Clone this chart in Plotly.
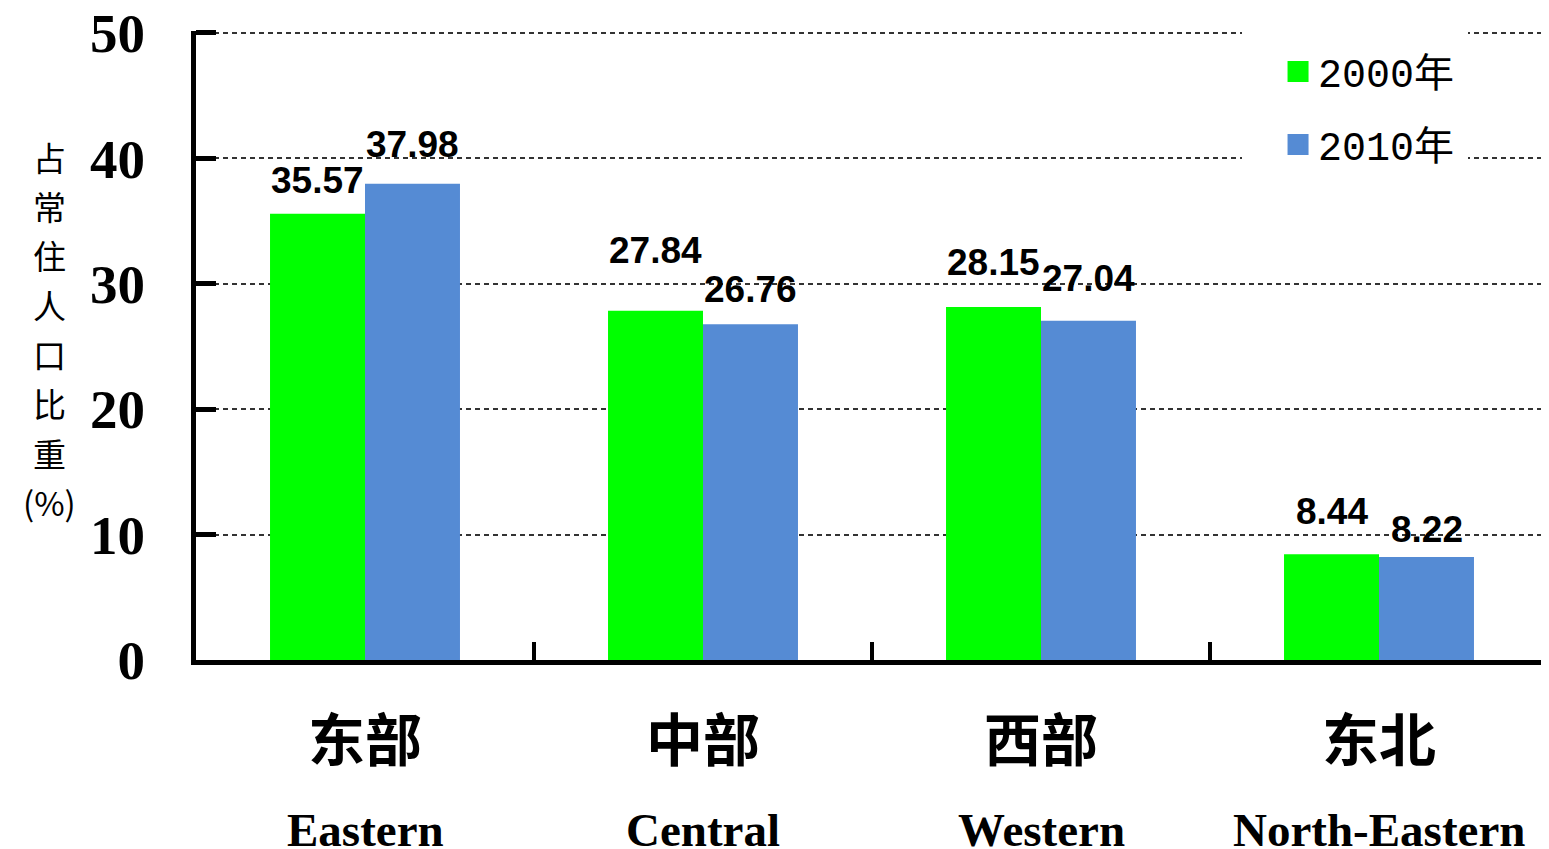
import plotly.graph_objects as go

categories = ["东部", "中部", "西部", "东北"]
categories_en = ["Eastern", "Central", "Western", "North-Eastern"]
series_names = ["2000年", "2010年"]
values_2000 = [35.57, 27.84, 28.15, 8.44]
values_2010 = [37.98, 26.76, 27.04, 8.22]
y_ticks = [0, 10, 20, 30, 40, 50]
y_title_chars = ["占", "常", "住", "人", "口", "比", "重", "(%)"]

# style
colors = ["#00FF00", "#558BD4"]
label_gap = [[18, 45, 29, 27], [24, 19, 27, 12]]  # px gap between bar top and label
BAR_HALF = 47.5
TITLE_STEP = 49.3

fig = go.Figure()
for i, (name, vals) in enumerate(zip(series_names, [values_2000, values_2010])):
    fig.add_trace(go.Bar(
        x=categories, y=vals, name=name, marker=dict(color=colors[i], line=dict(width=0)),
        showlegend=False,
    ))
    # legend proxy
    fig.add_trace(go.Scatter(
        x=[categories[0]], y=[None], mode="markers", name=name, legendgroup=name,
        marker=dict(symbol="square", size=16, color=colors[i], line=dict(color=colors[i], width=5)),
        showlegend=True, hoverinfo="skip",
    ))

annotations = []
for i, vals in enumerate([values_2000, values_2010]):
    for j, v in enumerate(vals):
        annotations.append(dict(
            x=categories[j], y=v, xref="x", yref="y", text=f"{v:.2f}", showarrow=False,
            xshift=(-BAR_HALF if i == 0 else BAR_HALF), yshift=label_gap[i][j] - 7,
            yanchor="bottom", xanchor="center",
            font=dict(family="Liberation Sans, Arial, sans-serif",
                      size=37, color="black", weight="bold"),
        ))
for j, en in enumerate(categories_en):
    annotations.append(dict(
        x=categories[j], y=-0.27, xref="x", yref="paper", text=en, showarrow=False,
        yanchor="middle", xanchor="center",
        font=dict(family="Liberation Serif, serif", size=47, color="black", weight="bold"),
    ))
for k, ch in enumerate(y_title_chars):
    annotations.append(dict(
        x=-0.1087, y=0.80, xref="paper", yref="paper", text=ch, showarrow=False,
        xanchor="center", yanchor="middle", yshift=-k * TITLE_STEP,
        font=dict(family="Noto Sans CJK SC, sans-serif", size=33, color="black"),
    ))

fig.update_layout(
    width=1541, height=841,
    margin=dict(l=188, r=1, t=23, b=189, autoexpand=False),
    paper_bgcolor="white", plot_bgcolor="white",
    barmode="group", bargap=0.438, bargroupgap=0,
    annotations=annotations,
    legend=dict(
        x=0.7737, y=1.0, xanchor="left", yanchor="top",
        bgcolor="white", bordercolor="white", borderwidth=8, tracegroupgap=18,
        indentation=28,
        font=dict(family="Liberation Mono, Noto Sans CJK SC, monospace", size=40, color="black"),
        itemsizing="trace",
    ),
    xaxis=dict(
        type="category", range=[-0.5, 3.5], automargin=False,
        showline=True, linecolor="black", linewidth=5,
        ticks="inside", tickson="boundaries", ticklen=18, tickwidth=4, tickcolor="black",
        showgrid=False, zeroline=False,
        tickfont=dict(family="Noto Sans CJK SC, sans-serif", size=57, color="black", weight="bold"),
        ticklabelstandoff=28,
    ),
    yaxis=dict(
        range=[0, 50.15], tickvals=y_ticks, ticktext=[str(t) for t in y_ticks], automargin=False,
        showline=True, linecolor="black", linewidth=5,
        ticks="inside", ticklen=20, tickwidth=5, tickcolor="black",
        showgrid=True, gridcolor="#333333", gridwidth=1.5, griddash="5px,4px",
        zeroline=False, ticklabeloverflow="allow",
        tickfont=dict(family="Liberation Serif, serif", size=55, color="black", weight="bold"),
        ticklabelstandoff=35,
    ),
)

fig.write_html("out.html")
